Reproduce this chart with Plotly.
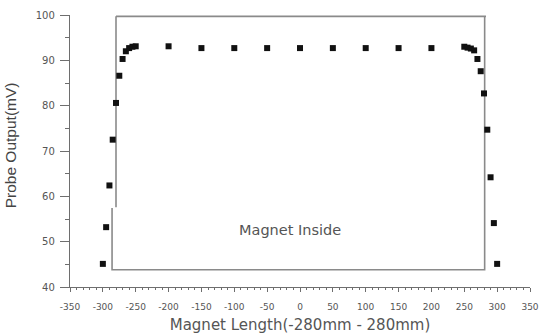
import plotly.graph_objects as go

# Probe output measured along the magnet axis
position_mm = [-300, -295, -290, -285, -280, -275, -270, -265, -260, -255, -250,
               -200, -150, -100, -50, 0, 50, 100, 150, 200,
               250, 255, 260, 265, 270, 275, 280, 285, 290, 295, 300]
output_mv = [45.1, 53.2, 62.4, 72.5, 80.6, 86.6, 90.3, 92.0, 92.7, 93.0, 93.1,
             93.1, 92.7, 92.7, 92.7, 92.7, 92.7, 92.7, 92.7, 92.7,
             93.0, 92.8, 92.6, 92.2, 90.3, 87.6, 82.7, 74.7, 64.2, 54.1, 45.1]

# Outline of the magnet body (None breaks the line)
outline_x = [-280, -280, None, -286, -286, 281, 281, 283, -280]
outline_y = [99.7, 57.6, None, 57.4, 43.8, 43.8, 99.7, 99.7, 99.7]

label_text = "Magnet Inside"
label_pos = [-15, 52.5]

x_ticks = list(range(-350, 351, 50))
y_ticks = list(range(40, 101, 10))

x_title = "Magnet Length(-280mm - 280mm)"
y_title = "Probe Output(mV)"

axis_col = "#6e6e6e"
text_col = "#555555"
font_fam = "DejaVu Sans, Arial, sans-serif"

fig = go.Figure()

fig.add_trace(go.Scatter(
    x=outline_x, y=outline_y, mode="lines",
    line=dict(color="#8a8a8a", width=1.6),
    connectgaps=False, hoverinfo="skip", showlegend=False,
))

fig.add_trace(go.Scatter(
    x=position_mm, y=output_mv, mode="markers",
    marker=dict(symbol="square", size=6, color="#111111",
                line=dict(width=0)),
    showlegend=False,
))

fig.add_annotation(
    x=label_pos[0], y=label_pos[1], text=label_text, showarrow=False,
    font=dict(family=font_fam, size=14.5, color=text_col),
)

# Vertical axis title, placed to the left of the tick labels
fig.add_annotation(
    xref="paper", yref="y", x=-0.13, y=71.3, text=y_title,
    textangle=-90, showarrow=False, xanchor="center", yanchor="middle",
    font=dict(family="Liberation Sans, Arial, sans-serif", size=15.5, color="#444444"),
)

fig.update_layout(
    width=543, height=335,
    margin=dict(l=70, r=13, t=15, b=48),
    paper_bgcolor="white", plot_bgcolor="white",
    font=dict(family=font_fam, color=text_col),
    showlegend=False,
)

fig.update_xaxes(
    range=[-350, 350], tickvals=x_ticks,
    ticktext=[str(v) for v in x_ticks],
    showgrid=False, zeroline=False, automargin=False,
    showline=True, linecolor=axis_col, linewidth=1.3,
    ticks="outside", ticklen=4, tickwidth=1, tickcolor=axis_col,
    minor=dict(dtick=10, ticks="outside", ticklen=2, tickcolor=axis_col, showgrid=False),
    tickfont=dict(size=9, color=text_col),
    ticklabelstandoff=7,
    title=dict(text=x_title,
               font=dict(size=15, color=text_col), standoff=8),
)

fig.update_yaxes(
    range=[40, 100], tickvals=y_ticks,
    ticktext=[str(v) for v in y_ticks],
    showgrid=False, zeroline=False, automargin=False,
    showline=True, linecolor=axis_col, linewidth=1.3,
    ticks="outside", ticklen=9, tickwidth=1, tickcolor=axis_col,
    minor=dict(dtick=5, ticks="outside", ticklen=4, tickcolor=axis_col, showgrid=False),
    tickfont=dict(size=10, color=text_col),
    ticklabelstandoff=3,
)

fig.write_html("out.html")
